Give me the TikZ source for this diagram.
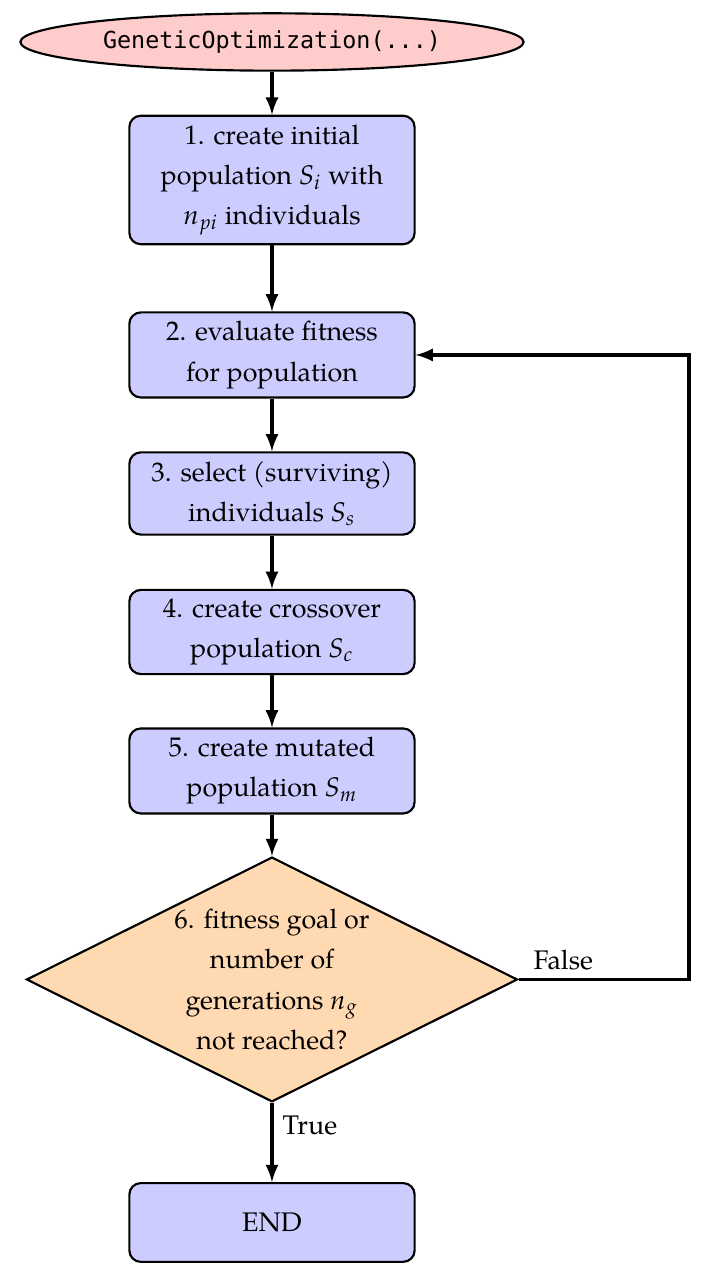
\documentclass[tikz,border=0pt]{standalone}
\usepackage{mathpazo}
\usepackage{fontspec}
\setmainfont{TeX Gyre Pagella}
\setmonofont{DejaVu Sans Mono}[Scale=0.87]
\usetikzlibrary{shapes,arrows,positioning}

\tikzset{
  startnode/.style={ellipse, draw, thick, fill=red!20, minimum width=6.55cm, minimum height=0.72cm, font=\ttfamily},
  stepbox/.style={rectangle, draw, thick, rounded corners=0.15cm, fill=blue!20, minimum width=3.73cm, minimum height=1.1cm, align=center},
  decision/.style={diamond, draw, thick, fill=orange!30, aspect=2, inner sep=0pt, minimum width=6.42cm, minimum height=3.2cm, align=center},
  line/.style={draw, very thick, ->, >=latex}
}

\begin{document}
\begin{tikzpicture}[font=\fontsize{10}{14.9}\selectfont]
\useasboundingbox (0,0) rectangle (9.296,-16.683);

% Start
\node[startnode] (start) at (3.556,-0.549) {GeneticOptimization(...)};

% Steps
\node[stepbox, minimum height=1.63cm] (init) at (3.556,-2.353) {1. create initial\\population $S_i$ with\\$n_{pi}$ individuals};
\node[stepbox] (eval) at (3.556,-4.641) {2. evaluate fitness\\for population};
\node[stepbox, minimum height=1.06cm] (select) at (3.556,-6.452) {3. select (surviving)\\individuals $S_s$};
\node[stepbox] (cross) at (3.556,-8.263) {4. create crossover\\population $S_c$};
\node[stepbox] (mutate) at (3.556,-10.080) {5. create mutated\\population $S_m$};

% Decision
\node[decision] (check) at (3.556,-12.806) {6. fitness goal or\\number of\\generations $n_g$\\not reached?};

% End
\node[stepbox, minimum height=1.03cm] (stop) at (3.556,-15.983) {END};

\coordinate (back) at (9.008,-12.806);

% Arrows
\path[line] (start) -- (init);
\path[line] (init) -- (eval);
\path[line] (eval) -- (select);
\path[line] (select) -- (cross);
\path[line] (cross) -- (mutate);
\path[line] (mutate) -- (check);
\path[line] (check) -- node[pos=0.28, right] {True} (stop);
\path[line] (check.east) node[anchor=south west, inner sep=3pt, xshift=2pt] {False} -- (back) |- (eval.east);
\end{tikzpicture}
\end{document}
